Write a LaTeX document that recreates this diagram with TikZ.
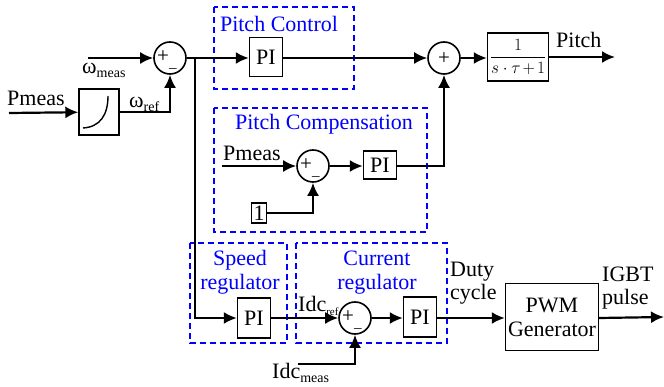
\documentclass[tikz,border=0pt]{standalone}
\usepackage{fontspec}
\setmainfont{Liberation Serif}
\usetikzlibrary{arrows.meta, positioning}

\tikzset{
  blk/.style={draw, line width=1.4pt, inner sep=0pt, align=center, font=\fontsize{22}{24}\selectfont},
  sumc/.style={draw, circle, line width=1.6pt, minimum size=32pt, inner sep=0pt},
  sig/.style={font=\fontsize{21}{21}\selectfont, inner sep=0pt, anchor=base west},
  grp/.style={draw=blue, line width=2.6pt, dash pattern=on 6pt off 4pt},
  grplab/.style={text=blue, font=\fontsize{22}{24}\selectfont, inner sep=0pt, align=center, anchor=base},
  lab/.style={font=\fontsize{22}{23}\selectfont, inner sep=0pt, anchor=base west, align=left},
  ar/.style={line width=2.2pt, -{Latex[length=13pt,width=12pt]}},
  ln/.style={line width=2.2pt},
}
\newcommand{\plusminus}{+\raisebox{-5pt}{\fontsize{15}{15}\selectfont\_}}
\newcommand{\lsub}[2][14]{\raisebox{-4pt}{\fontsize{#1}{#1}\selectfont #2}}

\begin{document}
\begin{tikzpicture}[x=1pt, y=-1pt]
\useasboundingbox (0,0) rectangle (664,387);

% groups
\draw[grp] (214,7) rectangle (354,89);
\draw[grp] (214,108) rectangle (427,232);
\draw[grp] (190,243) rectangle (287,343);
\draw[grp] (296,243) rectangle (447,343);
\node[grplab] (pclab) at (279,32) {Pitch Control};
\node[grplab] (pcomplab) at (324,130) {Pitch Compensation};
\node[grplab] (spdlab) at (240,290) {Speed\\regulator};
\node[grplab] (curlab) at (377,290) {Current\\regulator};

% blocks
\node[blk, minimum width=40pt, minimum height=46pt] (lut) at (99,112) {};
\draw[line width=1.4pt] (83,128) .. controls (100,127) and (108,115) .. (108,96);
\node[sumc] (s1) at (170,58) {};
\node[sig] at (157,63) {\plusminus};
\node[blk, minimum width=33pt, minimum height=39pt] (pi1) at (266,57) {PI};
\node[sumc] (s2) at (444,58) {};
\node[sig, anchor=center] at (444,59) {+};
\node[blk, minimum width=61pt, minimum height=48pt, font=\fontsize{17}{18}\selectfont] (tf) at (518,57) {$\displaystyle\frac{1}{s\cdot\tau\mkern-2mu+\mkern-2mu1}$};

\node[sumc] (s3) at (313,166) {};
\node[sig] at (300,171) {\plusminus};
\node[blk, minimum width=33pt, minimum height=28pt] (pi3) at (380,165) {PI};
\node[blk, minimum width=15pt, minimum height=20pt] (one) at (259,213) {1};

\node[blk, minimum width=33pt, minimum height=40pt] (pi2) at (254,318) {PI};
\node[sumc] (s4) at (355,318) {};
\node[sig] at (342,323) {\plusminus};
\node[blk, minimum width=33pt, minimum height=40pt] (pi4) at (420,317) {PI};
\node[blk, minimum width=93pt, minimum height=67pt] (pwm) at (552,317) {PWM\\Generator};

% free ends
\coordinate (pin) at (9,113);
\coordinate (wmin) at (88,58);
\coordinate (j1) at (195,58);
\coordinate (pout) at (615,57);
\coordinate (pin2) at (222,166);
\coordinate (idcin) at (298,364);
\coordinate (gout) at (664,317);

% labels
\node[lab] (pmeaslab) at (7,106) {Pmeas};
\node[lab] (wmeaslab) at (82,74) {ω\lsub{meas}};
\node[lab] (wreflab) at (129,108) {ω\lsub{ref}};
\node[lab] (pitchlab) at (556,48) {Pitch};
\node[lab] (pmeas2lab) at (223,161) {Pmeas};
\node[lab] (idcreflab) at (298,312) {Idc\lsub[11]{ref}};
\node[lab] (idcmeaslab) at (272,378) {Idc\lsub{meas}};
\node[lab] (dutylab) at (450,300) {Duty\\cycle};
\node[lab] (igbtlab) at (602,305) {IGBT\\pulse};

% connections
\draw[ar] (pin) -- (lut);
\draw[ar] (wmin) -- (s1);
\draw[ar] (lut.east) -| (s1.south);
\draw[ln] (s1.east) -- (j1);
\draw[ar] (j1) -- (pi1.west |- j1);
\draw[ar] (j1) |- (pi2.west);
\draw[ar] (pi1.east |- s2) -- (s2.west);
\draw[ar] (s2.east) -- (tf.west |- s2);
\draw[ar] (tf.east) -- (pout);
\draw[ar] (pin2) -- (s3.west);
\draw[ar] (s3.east) -- (pi3.west |- s3);
\draw[ar] (one.east) -| (s3.south);
\draw[ar] (pi3.east |- s3) -| (s2.south);
\draw[ar] (pi2.east) -- (s4.west);
\draw[ar] (s4.east) -- (pi4.west |- s4);
\draw[ar] (idcin) -| (s4.south);
\draw[ar] (pi4.east |- s4) -- (pwm.west |- s4);
\draw[ar] (pwm.east |- s4) -- (gout);

\end{tikzpicture}
\end{document}
